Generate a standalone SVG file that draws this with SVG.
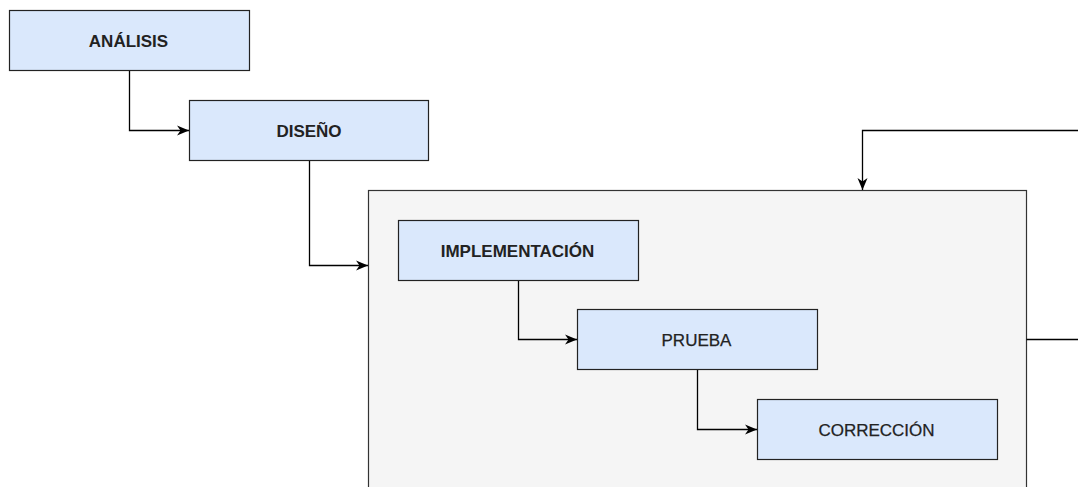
<svg xmlns="http://www.w3.org/2000/svg" width="1078" height="487" viewBox="0 0 1078 487">
  <defs>
    <marker id="arrow" markerUnits="userSpaceOnUse" markerWidth="13" markerHeight="12" viewBox="0 0 13 12" refX="12" refY="6" orient="auto">
      <path d="M0,1 L12,6 L0,11 L3.5,6 Z" fill="#000"/>
    </marker>
    <style>
      .box { fill: #dae8fc; stroke: #222; stroke-width: 1.2; }
      .container { fill: #f5f5f5; stroke: #333; stroke-width: 1.2; }
      .lbl { font-family: "Liberation Sans", Arial, sans-serif; font-size: 17px; fill: #222; text-anchor: middle; }
      .b { font-weight: bold; }
      .r { stroke: #222; stroke-width: 0.25; }
      .edge { fill: none; stroke: #000; stroke-width: 1.3; }
    </style>
  </defs>
  <rect width="1078" height="487" fill="#fff"/>
  <g id="container">
    <rect class="container" x="368.5" y="190.5" width="658" height="310"/>
  </g>
  <g id="connectors">
    <path class="edge" d="M129.5,70.5 V130.5 H189" marker-end="url(#arrow)"/>
    <path class="edge" d="M309.5,160.5 V265.5 H368" marker-end="url(#arrow)"/>
    <path class="edge" d="M518.5,280.5 V339.5 H577" marker-end="url(#arrow)"/>
    <path class="edge" d="M697.5,369.5 V429.5 H757" marker-end="url(#arrow)"/>
    <path class="edge" d="M1026.5,339.5 H1078"/>
    <path class="edge" d="M1078,130.5 H862.5 V190" marker-end="url(#arrow)"/>
  </g>
  <g id="analisis">
    <rect class="box" x="9.5" y="10.5" width="240" height="60"/>
    <text class="lbl b" x="128.5" y="46.5">ANÁLISIS</text>
  </g>
  <g id="diseno">
    <rect class="box" x="189.5" y="100.5" width="239" height="60"/>
    <text class="lbl b" x="309" y="136.5">DISEÑO</text>
  </g>
  <g id="implementacion">
    <rect class="box" x="398.5" y="220.5" width="240" height="60"/>
    <text class="lbl b" x="517.5" y="256.5">IMPLEMENTACIÓN</text>
  </g>
  <g id="prueba">
    <rect class="box" x="577.5" y="309.5" width="240" height="60"/>
    <text class="lbl r" x="696.5" y="345.5">PRUEBA</text>
  </g>
  <g id="correccion">
    <rect class="box" x="757.5" y="399.5" width="240" height="60"/>
    <text class="lbl r" x="876.5" y="435.5">CORRECCIÓN</text>
  </g>
</svg>
